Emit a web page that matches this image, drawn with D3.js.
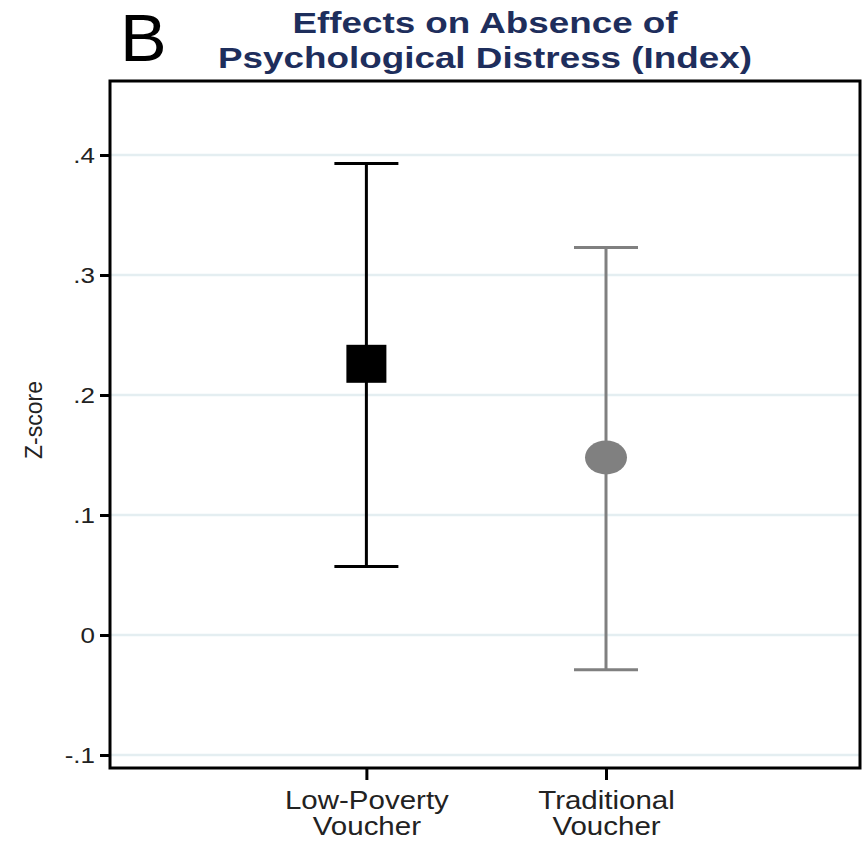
<!DOCTYPE html>
<html>
<head>
<meta charset="utf-8">
<script src="https://cdn.jsdelivr.net/npm/d3@7"></script>
<style>
  body { margin: 0; background: #fff; }
  text { font-family: "Liberation Sans", Arial, sans-serif; }
</style>
</head>
<body>
<svg id="chart"></svg>
<script>
// Data
const groups = ["Low-Poverty Voucher", "Traditional Voucher"];
const group_labels = [["Low-Poverty", "Voucher"], ["Traditional", "Voucher"]];
const group_pos = [1, 2];
const estimates = [0.226, 0.148];
const ci_low = [0.057, -0.029];
const ci_high = [0.393, 0.323];
const y_ticks = [-0.1, 0, 0.1, 0.2, 0.3, 0.4];
const y_tick_labels = ["-.1", "0", ".1", ".2", ".3", ".4"];
const marker_colors = ["#000000", "#808080"];

// Dimensions
const width = 866, height = 841;
const box = { left: 110, right: 860, top: 81, bottom: 768 };
// The original figure is a bit stretched sideways, so text gets widened too
const label_stretch = 1.18, title_stretch = 1.27;

const svg = d3.select("#chart")
    .attr("width", width)
    .attr("height", height);

// Scales
const x_scale = d3.scaleLinear()
    .domain([-0.07, 3.06])
    .range([box.left, box.right]);
const y_scale = d3.scaleLinear()
    .domain([-0.1, 0.4])
    .range([755, 155]);

// Gridlines
svg.append("g")
    .selectAll("line")
    .data(y_ticks)
    .enter()
    .append("line")
    .attr("x1", box.left)
    .attr("x2", box.right)
    .attr("y1", d => y_scale(d))
    .attr("y2", d => y_scale(d))
    .attr("stroke", "#e4eef1")
    .attr("stroke-width", 2.5);

// Y axis
const y_axis = d3.axisLeft(y_scale)
    .tickValues(y_ticks)
    .tickFormat((d, i) => y_tick_labels[i])
    .tickSize(10)
    .tickPadding(5);
const y_g = svg.append("g")
    .attr("transform", `translate(${box.left},0)`)
    .call(y_axis);
y_g.select(".domain").remove();
y_g.selectAll(".tick line").attr("stroke", "#000").attr("stroke-width", 3);
y_g.selectAll(".tick text")
    .attr("x", 0)
    .attr("transform", `translate(-15,0) scale(${label_stretch},1)`)
    .attr("fill", "#222")
    .style("font-size", "22px");

// X axis
const x_axis = d3.axisBottom(x_scale)
    .tickValues(group_pos)
    .tickFormat("")
    .tickSize(12);
const x_g = svg.append("g")
    .attr("transform", `translate(0,${box.bottom})`)
    .call(x_axis);
x_g.select(".domain").remove();
x_g.selectAll(".tick line").attr("stroke", "#000").attr("stroke-width", 3);

// X labels (two lines)
x_g.selectAll(".tick")
    .append("text")
    .attr("transform", `scale(${label_stretch},1)`)
    .attr("fill", "#222")
    .attr("text-anchor", "middle")
    .style("font-size", "25px")
    .selectAll("tspan")
    .data((d, i) => group_labels[i])
    .enter()
    .append("tspan")
    .attr("x", 0)
    .attr("y", (d, j) => 41 + j * 26)
    .text(d => d);

// Plot box
svg.append("rect")
    .attr("x", box.left)
    .attr("y", box.top)
    .attr("width", box.right - box.left)
    .attr("height", box.bottom - box.top)
    .attr("fill", "none")
    .attr("stroke", "#000")
    .attr("stroke-width", 3);

// Error bars
const cap_half = 32;
const bars = svg.append("g")
    .selectAll("g")
    .data(groups)
    .enter()
    .append("g")
    .attr("stroke", (d, i) => marker_colors[i])
    .attr("stroke-width", 3);
bars.append("line")
    .attr("x1", (d, i) => x_scale(group_pos[i]))
    .attr("x2", (d, i) => x_scale(group_pos[i]))
    .attr("y1", (d, i) => y_scale(ci_low[i]))
    .attr("y2", (d, i) => y_scale(ci_high[i]));
bars.append("line")
    .attr("x1", (d, i) => x_scale(group_pos[i]) - cap_half)
    .attr("x2", (d, i) => x_scale(group_pos[i]) + cap_half)
    .attr("y1", (d, i) => y_scale(ci_high[i]))
    .attr("y2", (d, i) => y_scale(ci_high[i]));
bars.append("line")
    .attr("x1", (d, i) => x_scale(group_pos[i]) - cap_half)
    .attr("x2", (d, i) => x_scale(group_pos[i]) + cap_half)
    .attr("y1", (d, i) => y_scale(ci_low[i]))
    .attr("y2", (d, i) => y_scale(ci_low[i]));

// Point markers: square for low-poverty, circle for traditional
svg.append("rect")
    .attr("x", x_scale(group_pos[0]) - 20)
    .attr("y", y_scale(estimates[0]) - 19)
    .attr("width", 40)
    .attr("height", 38)
    .attr("fill", marker_colors[0]);
svg.append("ellipse")
    .attr("cx", x_scale(group_pos[1]))
    .attr("cy", y_scale(estimates[1]))
    .attr("rx", 21)
    .attr("ry", 17)
    .attr("fill", marker_colors[1]);

// Y axis title
svg.append("text")
    .attr("transform", "translate(42,420) rotate(-90)")
    .attr("text-anchor", "middle")
    .attr("fill", "#222")
    .style("font-size", "23px")
    .text("Z-score");

// Title
const title_x = (box.left + box.right) / 2;
const title_lines = ["Effects on Absence of", "Psychological Distress (Index)"];
svg.append("g")
    .selectAll("text")
    .data(title_lines)
    .enter()
    .append("text")
    .attr("transform", (d, i) => `translate(${title_x},${33 + i * 35}) scale(${title_stretch},1)`)
    .attr("text-anchor", "middle")
    .attr("fill", "#1e2e5c")
    .style("font-size", "29px")
    .style("font-weight", "bold")
    .text(d => d);

// Panel letter
svg.append("text")
    .attr("transform", "translate(120,61) scale(1.06,1)")
    .attr("fill", "#000")
    .style("font-size", "66px")
    .text("B");
</script>
</body>
</html>
